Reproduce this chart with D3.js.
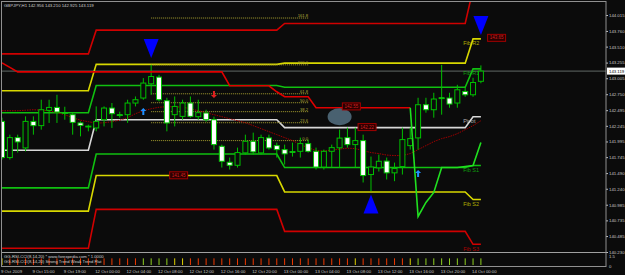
<!DOCTYPE html>
<html>
<head>
<meta charset="utf-8">
<script src="https://cdn.jsdelivr.net/npm/d3@7"></script>
<style>
  body { margin: 0; background: #0b0b0b; }
  svg { display: block; }
  text { font-family: "Liberation Sans", Arial, sans-serif; }
</style>
</head>
<body>
<div id="chart"></div>
<script>
// GBPJPY H1, 62 bars
const opens  = [142.316,141.738,142.057,141.892,142.316,142.248,142.491,142.539,142.455,142.423,142.291,142.240,
                142.211,142.343,142.529,142.423,142.423,142.609,142.689,142.916,143.023,142.646,142.423,142.396,
                142.609,142.391,142.450,142.343,141.918,141.663,141.615,141.813,141.998,141.813,142.052,141.929,
                141.865,141.834,141.838,141.961,141.838,141.587,141.838,141.894,142.057,141.945,142.009,141.467,
                141.574,141.682,141.494,141.595,141.929,142.052,142.582,142.502,142.693,142.689,142.609,142.794,
                142.741,142.956];
const highs  = [142.375,142.104,142.104,142.396,142.396,142.662,142.662,142.741,142.550,142.450,142.316,142.264,
                142.555,142.555,142.609,142.471,142.662,142.714,143.007,143.219,143.060,142.693,142.714,142.662,
                142.714,142.662,142.502,142.391,141.945,141.738,141.897,142.104,142.136,142.104,142.104,141.977,
                141.945,141.977,142.057,142.025,141.897,141.865,141.945,142.184,142.216,142.216,142.104,141.754,
                141.786,141.738,141.658,142.216,142.216,142.693,142.693,142.773,143.219,142.773,142.900,142.873,
                143.012,143.210];
const lows   = [141.706,141.706,141.818,141.838,142.104,142.184,142.291,142.291,142.343,142.104,142.077,142.157,
                142.157,142.236,142.211,142.375,142.291,142.555,142.662,142.741,142.635,142.157,142.236,142.343,
                142.375,142.343,142.311,141.865,141.579,141.547,141.579,141.786,141.786,141.786,141.865,141.738,
                141.627,141.754,141.738,141.818,141.547,141.547,141.579,141.579,141.897,141.579,141.340,141.201,
                141.515,141.388,141.361,141.467,141.865,141.865,142.455,142.375,142.423,142.534,142.534,142.709,
                142.709,142.925];
const closes = [141.738,142.057,141.988,142.316,142.248,142.502,142.539,142.466,142.447,142.300,142.252,142.232,
                142.316,142.529,142.439,142.415,142.609,142.662,142.928,143.033,142.662,142.291,142.555,142.609,
                142.396,142.455,142.343,141.945,141.679,141.615,141.818,141.998,141.829,142.057,141.892,141.865,
                141.797,141.826,141.961,141.838,141.587,141.838,141.897,142.049,141.945,142.009,141.451,141.587,
                141.679,141.494,141.563,142.025,142.041,142.582,142.502,142.673,142.684,142.593,142.821,142.741,
                142.937,143.119];

// dotted moving average
const maValues = [142.486,142.486,142.486,142.494,142.502,142.494,142.486,142.455,142.423,142.375,142.335,142.311,
                  142.287,142.295,142.311,142.335,142.375,142.439,142.486,142.518,142.542,142.550,142.550,142.542,
                  142.518,142.486,142.455,142.423,142.391,142.359,142.327,142.295,142.248,142.200,142.152,142.104,
                  142.057,142.009,141.945,141.897,141.850,141.842,141.858,141.873,141.889,141.881,141.850,141.818,
                  141.802,141.778,141.770,141.770,141.802,141.865,141.929,141.993,142.041,142.073,142.120,142.184,
                  142.248,142.327];

// trailing stop line: red while short (bars 0..52), green after the flip (bars 52..61)
const trailRed   = [143.251,143.179,143.107,143.107,143.107,143.107,143.107,143.107,143.107,143.107,143.107,143.107,
                    143.107,143.107,143.107,143.107,143.107,143.107,143.107,143.107,143.107,143.107,143.107,143.107,
                    143.107,143.107,143.107,143.107,143.107,142.885,142.885,142.885,142.885,142.885,142.885,142.789,
                    142.709,142.709,142.709,142.709,142.534,142.534,142.534,142.534,142.534,142.534,142.534,142.534,
                    142.534,142.534,142.534,142.534,142.534];
const trailGreen = [142.534,140.798,141.021,141.181,141.579,141.579,141.579,141.595,141.611,141.977];

// daily fibonacci pivots (9, 12, 13, 14 Oct) and first bar of each day
const dayStart = [0, 12, 36, 60];
const pivR3 = [143.394, 143.773, 143.880, 144.429];
const pivR2 = [142.805, 143.227, 143.246, 143.633];
const pivR1 = [142.455, 142.889, 142.861, 143.155];
const pivPP = [141.854, 142.343, 142.216, 142.391];
const pivS1 = [141.254, 141.794, 141.579, 141.611];
const pivS2 = [140.883, 141.451, 141.189, 141.069];
const pivS3 = [140.289, 140.910, 140.560, 140.353];

// fibonacci retracement drawn on the chart
const fibLevels = [0, 23.6, 38.2, 50.0, 61.8, 100.0, 161.8];
const fibLow = 142.009, fibHigh = 143.219;
const fibBars = [19, 39];

// signals
const bigDown = [{bar: 19, price: 143.330}, {bar: 61, price: 143.697}];
const bigUp   = [{bar: 47, price: 141.148}];
const smallUp = [{bar: 18, price: 142.530}, {bar: 53, price: 141.540}];
const smallDown = [{bar: 27, price: 142.690}];
const priceBoxes = [
  {bar: 22.5, price: 141.455, text: "141.45"},
  {bar: 44.5, price: 142.555, text: "142.55"},
  {bar: 46.5, price: 142.225, text: "142.22"},
  {bar: 63,   price: 143.650, text: "143.65"}
];

// right price scale
const priceTicks = [144.015,143.760,143.510,143.255,143.005,142.750,142.495,142.245,
                    141.995,141.745,141.490,141.240,140.985,140.735,140.485,140.230];
const lastPrice = 143.119;

// time scale, one label every 4 bars
const timeLabels = ["9 Oct 2009","9 Oct 15:00","9 Oct 19:00","12 Oct 00:00","12 Oct 04:00","12 Oct 08:00",
                    "12 Oct 12:00","12 Oct 16:00","12 Oct 20:00","13 Oct 00:00","13 Oct 04:00","13 Oct 08:00",
                    "13 Oct 12:00","13 Oct 16:00","13 Oct 20:00","14 Oct 00:00"];

// GG-RSI-CCI histogram state per bar
const ggState = ["y","r","r","r","r","r","r","r","r","r","r","r","r","r","r","r",
                 "r","r","g","g","g","g","y","y","r","r","r","r","r","r","r","r",
                 "r","r","r","r","r","r","r","r","r","r","r","r","r","y","r","r",
                 "r","r","r","r","y","g","g","g","g","g","g","g","g","g"];

const W = 625, H = 275;
const svg = d3.select("#chart").append("svg").attr("width", W).attr("height", H);
svg.append("rect").attr("width", W).attr("height", H).attr("fill", "#0b0b0b");

const x = d3.scaleLinear().domain([0, 61]).range([2, 480.9]);
const y = d3.scaleLinear().domain([144.015, 140.230]).range([15, 252]);

const main = svg.append("g");
main.append("clipPath").attr("id", "clip").append("rect")
  .attr("x", 2).attr("y", 2).attr("width", 604).attr("height", 250);
const plot = main.append("g").attr("clip-path", "url(#clip)");

const dayOf = i => d3.bisectRight(dayStart, i) - 1;
const bars = d3.range(opens.length);

// current price line
plot.append("line")
  .attr("x1", 2).attr("x2", 606).attr("y1", y(lastPrice)).attr("y2", y(lastPrice))
  .attr("stroke", "#606866").attr("stroke-width", 1);

// pivots
const pivotSets = [
  {v: pivR3, c: "#d00000", name: "Fib R3"},
  {v: pivR2, c: "#d8d800", name: "Fib R2"},
  {v: pivR1, c: "#10c010", name: "Fib R1"},
  {v: pivPP, c: "#d8d8d8", name: "Pivot"},
  {v: pivS1, c: "#10c010", name: "Fib S1"},
  {v: pivS2, c: "#d8d800", name: "Fib S2"},
  {v: pivS3, c: "#d00000", name: "Fib S3"}
];
pivotSets.forEach(p => {
  const line = d3.line().x(i => x(i)).y(i => y(p.v[dayOf(i)]));
  plot.append("path").datum(bars).attr("d", line)
    .attr("fill", "none").attr("stroke", p.c).attr("stroke-width", 1.6);
});
const pivLabels = plot.append("g");
pivotSets.forEach(p => {
  const ly = y(p.v[3]) + 6.5;
  if (ly > 8 && ly < 252) {
    pivLabels.append("text").attr("x", x(59) - 2).attr("y", ly)
      .attr("font-size", 5.5).attr("fill", p.c).attr("opacity", 0.8).text(p.name);
  }
});

// fibonacci retracement
const fibG = plot.append("g");
fibLevels.forEach(l => {
  const py = y(fibLow + (fibHigh - fibLow) * l / 100);
  fibG.append("line").attr("x1", x(fibBars[0])).attr("x2", x(fibBars[1]))
    .attr("y1", py).attr("y2", py)
    .attr("stroke", "#a8a030").attr("stroke-width", 1).attr("stroke-dasharray", "1,1");
  fibG.append("text").attr("x", x(fibBars[1])).attr("y", py - 1)
    .attr("text-anchor", "end").attr("font-size", 4.2).attr("fill", "#b0a838")
    .text(l.toFixed(1));
});

// moving average
plot.append("path").datum(bars)
  .attr("d", d3.line().x(i => x(i)).y(i => y(maValues[i])))
  .attr("fill", "none").attr("stroke", "#a00000").attr("stroke-width", 1)
  .attr("stroke-dasharray", "1.5,1");

// candles
const bodyW = 5;
const candle = plot.append("g").selectAll("g").data(bars).join("g");
candle.append("line")
  .attr("x1", i => x(i)).attr("x2", i => x(i))
  .attr("y1", i => y(highs[i])).attr("y2", i => y(lows[i]))
  .attr("stroke", "#00c000").attr("stroke-width", 1);
candle.append("rect")
  .attr("x", i => x(i) - bodyW / 2)
  .attr("y", i => y(Math.max(opens[i], closes[i])))
  .attr("width", bodyW)
  .attr("height", i => Math.max(0.8, Math.abs(y(opens[i]) - y(closes[i]))))
  .attr("fill", i => closes[i] < opens[i] ? "#ffffff" : "#0b0b0b")
  .attr("stroke", "#00c000").attr("stroke-width", 1);

// trailing stop
plot.append("path").datum(trailRed)
  .attr("d", d3.line().x((d, i) => x(i)).y(d => y(d)))
  .attr("fill", "none").attr("stroke", "#e00000").attr("stroke-width", 1.6);
plot.append("path").datum(trailGreen)
  .attr("d", d3.line().x((d, i) => x(52 + i)).y(d => y(d)))
  .attr("fill", "none").attr("stroke", "#20e020").attr("stroke-width", 1.6);

// blue ellipse
plot.append("ellipse").attr("cx", x(43)).attr("cy", y(142.391))
  .attr("rx", 12).attr("ry", 8.5).attr("fill", "#4d6676").attr("opacity", 0.95);

// price boxes
priceBoxes.forEach(b => {
  const g = plot.append("g").attr("transform", `translate(${x(b.bar)},${y(b.price)})`);
  g.append("rect").attr("x", -9).attr("y", -3.5).attr("width", 18).attr("height", 7)
    .attr("fill", "#2a0000").attr("stroke", "#a00000").attr("stroke-width", 1);
  g.append("text").attr("text-anchor", "middle").attr("y", 1.6)
    .attr("font-size", 4.5).attr("fill", "#d02020").text(b.text);
});

// signals
bigDown.forEach(s => {
  const cx = x(s.bar), ty = y(s.price);
  plot.append("path").attr("d", `M${cx - 7.5},${ty - 19}L${cx + 7.5},${ty - 19}L${cx},${ty}Z`)
    .attr("fill", "#0000ff");
});
bigUp.forEach(s => {
  const cx = x(s.bar), ty = y(s.price);
  plot.append("path").attr("d", `M${cx - 7.5},${ty + 19}L${cx + 7.5},${ty + 19}L${cx},${ty}Z`)
    .attr("fill", "#0000ff");
});
smallUp.forEach(s => {
  const cx = x(s.bar), ty = y(s.price);
  plot.append("path")
    .attr("d", `M${cx},${ty}L${cx + 3},${ty + 3}L${cx + 1},${ty + 3}L${cx + 1},${ty + 7}L${cx - 1},${ty + 7}L${cx - 1},${ty + 3}L${cx - 3},${ty + 3}Z`)
    .attr("fill", "#2090ff");
});
smallDown.forEach(s => {
  const cx = x(s.bar), ty = y(s.price);
  plot.append("path")
    .attr("d", `M${cx},${ty}L${cx + 3},${ty - 3}L${cx + 1},${ty - 3}L${cx + 1},${ty - 7}L${cx - 1},${ty - 7}L${cx - 1},${ty - 3}L${cx - 3},${ty - 3}Z`)
    .attr("fill", "#e02020");
});

// header
svg.append("text").attr("x", 4).attr("y", 7).attr("font-size", 4.3).attr("fill", "#d0d0d0")
  .text(`GBPJPY,H1  ${opens[61].toFixed(3)} ${highs[61].toFixed(3)} ${lows[61].toFixed(3)} ${closes[61].toFixed(3)}`);

// price axis
const yAxis = d3.axisRight(y).tickValues(priceTicks).tickFormat(d3.format(".3f")).tickSize(2);
const ya = svg.append("g").attr("transform", "translate(606,0)").call(yAxis);
ya.select(".domain").remove();
ya.selectAll("line").attr("stroke", "#c0c0c0");
ya.selectAll("text").attr("font-size", 4.3).attr("fill", "#c8c8c8").attr("x", 3);
const lp = svg.append("g").attr("transform", `translate(607,${y(lastPrice)})`);
lp.append("rect").attr("x", 0).attr("y", -3.5).attr("width", 18).attr("height", 7).attr("fill", "#ffffff");
lp.append("text").attr("x", 2).attr("y", 1.6).attr("font-size", 4.3).attr("fill", "#000").text(lastPrice.toFixed(3));

// indicator window
const yi = d3.scaleLinear().domain([0, 1.5]).range([265, 255.5]);
const ggColor = {r: "#f03a00", y: "#e0d000", g: "#90d020"};
svg.append("g").selectAll("line").data(bars).join("line")
  .attr("x1", i => x(i)).attr("x2", i => x(i))
  .attr("y1", yi(0)).attr("y2", yi(1.05))
  .attr("stroke", i => ggColor[ggState[i]]).attr("stroke-width", 1);
svg.append("text").attr("x", 4).attr("y", 258).attr("font-size", 4.2).attr("fill", "#d0d0d0")
  .text("GG-RSI-CCI(8,14,20) * www.forexpedia.com * 1.0000");
svg.append("text").attr("x", 4).attr("y", 263).attr("font-size", 4.2).attr("fill", "#d0d0d0")
  .text("GG-RSI-CCI(8,14,20) Strong Trend  Weak Trend  Flat");
[[1.5, "1.5"], [0, "0"]].forEach(([v, t]) => {
  svg.append("text").attr("x", 609).attr("y", yi(v) + 2.5).attr("font-size", 4.3).attr("fill", "#c8c8c8").text(t);
});

// frame
svg.append("line").attr("x1", 2).attr("x2", 606).attr("y1", 252.5).attr("y2", 252.5).attr("stroke", "#a0a0a0");
svg.append("rect").attr("x", 1.5).attr("y", 1.5).attr("width", 604.5).attr("height", 265)
  .attr("fill", "none").attr("stroke", "#909090").attr("stroke-width", 1);

// time axis
svg.append("g").selectAll("text").data(timeLabels).join("text")
  .attr("x", (d, k) => x(k * 4) - 1).attr("y", 273)
  .attr("font-size", 4.3).attr("fill", "#c8c8c8").text(d => d);
</script>
</body>
</html>
